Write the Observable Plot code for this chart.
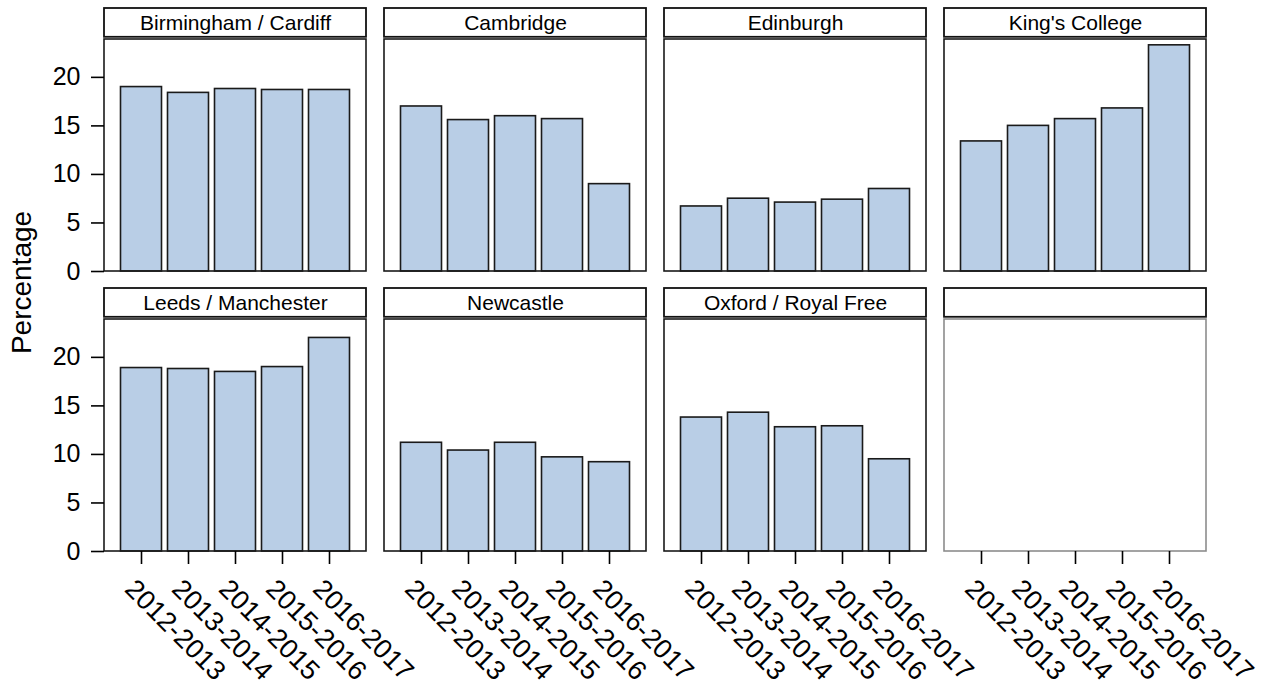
<!DOCTYPE html>
<html><head><meta charset="utf-8">
<script src="https://cdn.jsdelivr.net/npm/d3@7"></script>
<script src="https://cdn.jsdelivr.net/npm/@observablehq/plot@0.6"></script>
<style>
html,body{margin:0;padding:0;background:#fff;}
#chart{width:1265px;height:688px;}
</style></head><body><div id="chart"></div>
<script>
// ---- data ----
const sites = ["Birmingham / Cardiff", "Cambridge", "Edinburgh", "King's College",
               "Leeds / Manchester", "Newcastle", "Oxford / Royal Free"];
const years = ["2012-2013", "2013-2014", "2014-2015", "2015-2016", "2016-2017"];
const birminghamCardiff = [19.0, 18.4, 18.8, 18.7, 18.7];
const cambridge         = [17.0, 15.6, 16.0, 15.7, 9.0];
const edinburgh         = [6.7, 7.5, 7.1, 7.4, 8.5];
const kingsCollege      = [13.4, 15.0, 15.7, 16.8, 23.3];
const leedsManchester   = [18.9, 18.8, 18.5, 19.0, 22.0];
const newcastle         = [11.2, 10.4, 11.2, 9.7, 9.2];
const oxfordRoyalFree   = [13.8, 14.3, 12.8, 12.9, 9.5];
const yTicks = [0, 5, 10, 15, 20];
const yMax = 23.9;
const yLabel = "Percentage";

// ---- layout / style ----
const W = 1265, H = 688;
const mL = 103.5, mR = 59.5, mT = 39.3, mB = 136.3;
const nCols = 4, nRows = 2;
const fxPad = 0.0643, fyPad = 0.1713;
const frameH = (H - mT - mB) * (1 - fyPad) / (nRows - fyPad);
const stripGap = 2, stripH = 29;
const font = "'Liberation Sans', Arial, sans-serif";

const seriesBySite = [birminghamCardiff, cambridge, edinburgh, kingsCollege,
                      leedsManchester, newcastle, oxfordRoyalFree];
const cells = d3.range(nCols * nRows).map(i => ({
  col: i % nCols, row: Math.floor(i / nCols), label: sites[i] ?? ""
}));
const data = sites.flatMap((s, i) => years.map((y, j) => ({
  site: s, year: y, value: seriesBySite[i][j],
  col: i % nCols, row: Math.floor(i / nCols)
})));

const chart = Plot.plot({
  width: W, height: H,
  marginLeft: mL, marginRight: mR, marginTop: mT, marginBottom: mB,
  style: {fontFamily: font, color: "#000", background: "#fff", overflow: "visible"},
  fx: {domain: d3.range(nCols), paddingInner: fxPad, paddingOuter: 0, axis: null},
  fy: {domain: d3.range(nRows), paddingInner: fyPad, paddingOuter: 0, axis: null},
  x: {domain: years, paddingInner: 0.12, paddingOuter: 0.347, label: null},
  y: {domain: [0, yMax], label: null},
  marks: [
    Plot.barY(data, {fx: "col", fy: "row", x: "year", y: "value",
      fill: "#b9cee6", stroke: "#1a1a1a", strokeWidth: 1.6}),
    Plot.rect(cells, {fx: "col", fy: "row", fill: "none",
      stroke: d => d.label ? "#1a1a1a" : "#8c8c8c", strokeWidth: 1.6}),
    Plot.rect(cells, {fx: "col", fy: "row", fill: "#fff", stroke: "#111", strokeWidth: 1.8,
      insetTop: -(stripGap + stripH), insetBottom: frameH + stripGap}),
    Plot.text(cells, {fx: "col", fy: "row", text: "label", frameAnchor: "top",
      lineAnchor: "middle", dy: -(stripGap + stripH / 2), fontSize: 21, fill: "#000"}),
    Plot.axisY({ticks: yTicks, tickSize: 13, tickPadding: 11, facetAnchor: "left",
      label: null, fontSize: 25, stroke: "#000", strokeWidth: 1.6}),
    Plot.axisX({tickSize: 13, tickRotate: 45, tickPadding: 6, facetAnchor: "bottom",
      label: null, fontSize: 27, stroke: "#000", strokeWidth: 1.6}),
  ]
});
document.getElementById("chart").appendChild(chart);
const svgEl = chart.tagName.toLowerCase() === "svg" ? chart : chart.querySelector("svg");
// shift rotated x tick labels (text only) to sit like the reference
d3.select(svgEl).selectAll("g[aria-label='x-axis tick label'] text")
  .attr("dx", null);
d3.select(svgEl).selectAll("g[aria-label='x-axis tick label']")
  .attr("transform", function() {
    const t = this.getAttribute("transform") || "";
    return t + " translate(-12,14)";
  });
d3.select(svgEl).append("text")
  .attr("transform", "translate(24,282.5) rotate(-90)")
  .attr("text-anchor", "middle")
  .attr("dominant-baseline", "middle")
  .attr("font-family", font)
  .attr("font-size", 28)
  .attr("fill", "#000")
  .text(yLabel);
</script>
</body></html>
